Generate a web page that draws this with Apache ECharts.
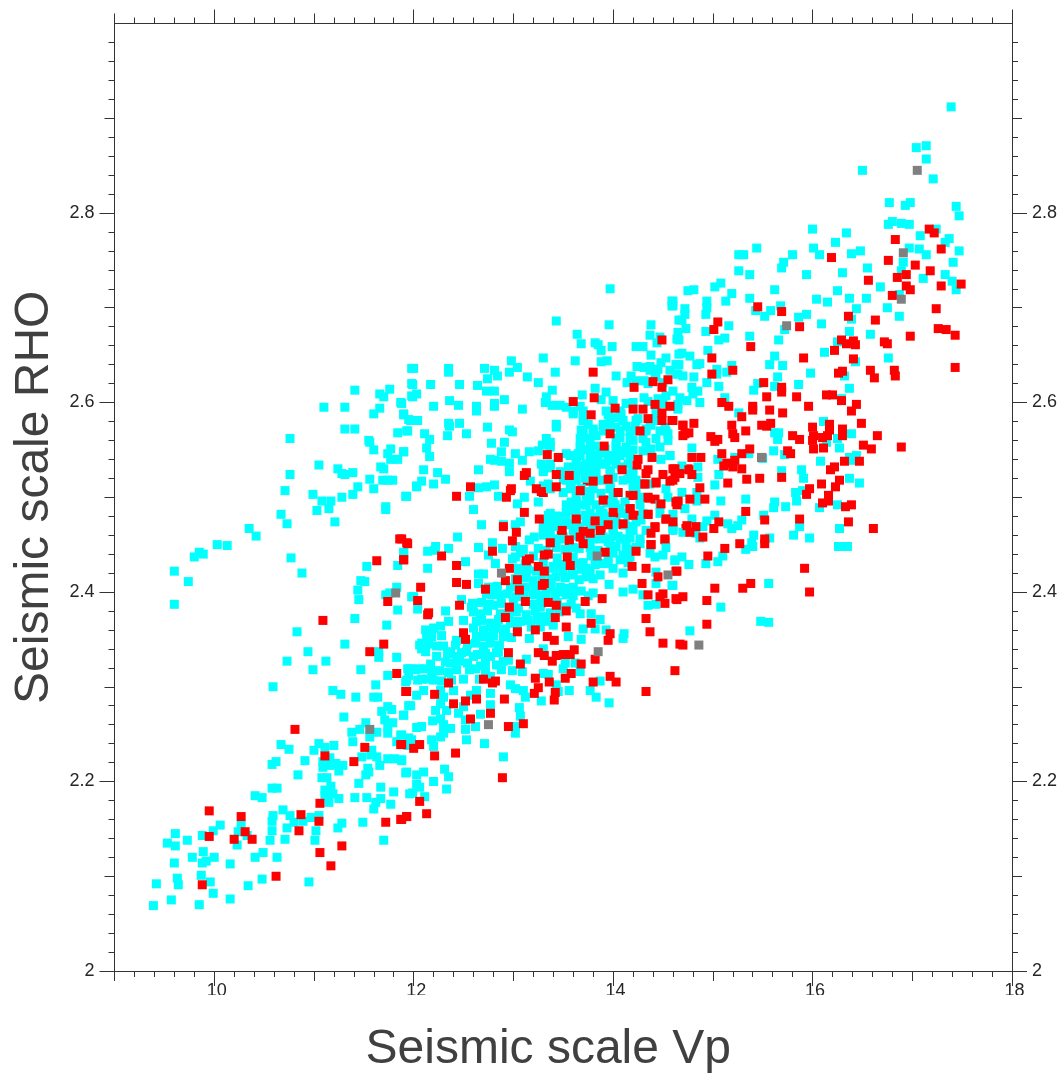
<!DOCTYPE html>
<html>
<head>
<meta charset="utf-8">
<style>html,body{margin:0;padding:0;background:#fff}#c{width:1061px;height:1077px}</style>
<script src="https://cdn.jsdelivr.net/npm/echarts@6/dist/echarts.min.js"></script>
</head>
<body>
<div id="c"></div>
<script>
const xTitle = "Seismic scale Vp";
const yTitle = "Seismic scale RHO";
const xLabelled = [10,12,14,16,18];
const xOddMajor = [9,11,13,15,17];
const yLabelled = [2,2.2,2.4,2.6,2.8];
const yOddMajor = [2.1,2.3,2.5,2.7,2.9];

const cyanLow = [[11.31,2.345],[10.94,2.337],[10.73,2.327],[11.12,2.327],[10.99,2.318],[11.65,2.337],[11.65,2.331],[11.83,2.331],[11.47,2.318],[11.74,2.312],[11.94,2.319],[11.93,2.307],[10.59,2.300],[11.62,2.302],[11.19,2.296],[11.27,2.292],[11.42,2.289],[11.60,2.289],[11.64,2.289],[11.95,2.280],[11.68,2.274],[11.74,2.279],[11.78,2.276],[11.90,2.270],[11.30,2.268],[11.71,2.265],[11.52,2.262],[11.79,2.262],[11.74,2.258],[11.46,2.255],[11.38,2.252],[11.63,2.252],[11.74,2.251],[11.56,2.247],[11.87,2.249],[11.39,2.242],[11.94,2.244],[11.05,2.240],[10.67,2.239],[10.75,2.234],[11.00,2.233],[11.11,2.236],[11.20,2.238],[11.83,2.242],[11.94,2.238],[11.58,2.233],[11.57,2.228],[11.48,2.226],[11.63,2.226],[11.74,2.224],[11.81,2.224],[11.88,2.222],[10.91,2.222],[10.62,2.221],[10.58,2.218],[11.16,2.225],[11.09,2.221],[11.09,2.215],[11.16,2.217],[11.22,2.219],[11.29,2.217],[11.25,2.211],[11.66,2.217],[11.54,2.214],[11.55,2.210],[11.52,2.207],[10.84,2.207],[11.08,2.204],[11.13,2.204],[11.92,2.209],[11.45,2.198],[11.67,2.194],[10.58,2.193],[10.63,2.193],[11.17,2.195],[11.11,2.191],[11.11,2.185],[11.19,2.187],[11.25,2.182],[11.15,2.178],[11.80,2.189],[11.96,2.187],[11.41,2.183],[11.53,2.183],[11.67,2.182],[11.62,2.178],[11.77,2.176],[11.60,2.171],[10.41,2.185],[10.48,2.183],[10.69,2.170],[10.59,2.164],[10.76,2.164],[10.58,2.158],[10.80,2.157],[10.89,2.158],[10.97,2.162],[11.05,2.164],[10.06,2.154],[10.27,2.154],[9.99,2.148],[10.24,2.147],[10.33,2.143],[9.88,2.143],[9.61,2.145],[9.73,2.138],[9.53,2.135],[9.61,2.132],[10.58,2.148],[10.73,2.151],[11.02,2.148],[11.24,2.151],[11.28,2.156],[11.49,2.157],[10.56,2.138],[10.71,2.139],[11.01,2.138],[11.70,2.138],[10.23,2.133],[9.89,2.126],[9.78,2.120],[10.00,2.120],[9.92,2.116],[9.88,2.114],[9.60,2.114],[10.16,2.113],[10.41,2.120],[10.49,2.125],[10.63,2.120],[9.87,2.101],[9.63,2.098],[9.64,2.091],[9.42,2.092],[9.96,2.094],[10.48,2.097],[10.95,2.094],[10.34,2.090],[9.99,2.082],[9.57,2.075],[10.16,2.076],[9.39,2.069],[9.85,2.070]];

const cyanUpperLeft = [[11.41,2.613],[11.76,2.614],[11.66,2.609],[11.70,2.606],[11.98,2.636],[11.98,2.620],[11.98,2.607],[11.87,2.600],[11.10,2.595],[11.31,2.595],[11.66,2.594],[11.60,2.588],[11.90,2.588],[11.95,2.582],[11.31,2.572],[11.41,2.572],[11.93,2.570],[11.84,2.568],[10.76,2.562],[11.55,2.560],[11.56,2.558],[11.60,2.550],[11.77,2.551],[11.90,2.548],[11.74,2.546],[11.77,2.540],[11.84,2.540],[11.05,2.534],[11.67,2.532],[11.70,2.530],[11.24,2.530],[10.76,2.524],[11.28,2.525],[11.31,2.524],[11.39,2.526],[11.56,2.519],[11.69,2.518],[11.74,2.518],[11.79,2.518],[11.44,2.511],[11.60,2.509],[10.71,2.507],[11.39,2.503],[10.99,2.503],[11.92,2.501],[11.28,2.500],[11.08,2.496],[11.17,2.496],[11.15,2.488],[11.72,2.490],[11.72,2.487],[11.03,2.486],[10.67,2.482],[10.73,2.472],[11.21,2.474],[10.35,2.467],[10.42,2.459],[10.03,2.450],[10.13,2.449],[9.85,2.442],[9.89,2.440],[9.80,2.437],[11.90,2.442],[10.77,2.436],[11.53,2.427],[11.84,2.428],[9.60,2.422],[10.88,2.420],[9.74,2.411],[11.47,2.412],[11.51,2.411],[11.44,2.402],[11.83,2.405],[11.76,2.399],[11.72,2.397],[11.45,2.392],[11.98,2.395],[9.60,2.387],[11.84,2.381],[11.41,2.372],[11.73,2.365],[10.83,2.358]];

const cyanUpperMiddle = [[13.97,2.720],[14.59,2.707],[14.59,2.702],[13.43,2.686],[13.96,2.682],[14.38,2.682],[13.64,2.672],[14.37,2.671],[14.47,2.669],[14.66,2.687],[13.68,2.662],[13.82,2.663],[13.85,2.661],[14.44,2.663],[14.64,2.667],[13.99,2.659],[13.88,2.655],[14.23,2.659],[14.30,2.659],[14.38,2.650],[12.98,2.644],[13.30,2.647],[13.62,2.644],[13.88,2.643],[13.94,2.644],[14.53,2.647],[14.48,2.642],[14.66,2.651],[12.00,2.636],[12.35,2.636],[12.35,2.632],[12.71,2.636],[12.81,2.634],[13.04,2.637],[12.96,2.632],[13.42,2.632],[14.24,2.638],[14.31,2.637],[14.37,2.638],[14.45,2.635],[14.63,2.640],[12.84,2.628],[12.74,2.625],[13.14,2.627],[14.03,2.628],[14.18,2.628],[14.37,2.634],[14.43,2.630],[14.57,2.634],[14.65,2.630],[13.25,2.621],[11.99,2.619],[12.17,2.619],[12.46,2.619],[12.64,2.618],[13.39,2.613],[13.82,2.615],[14.14,2.621],[14.23,2.623],[14.31,2.623],[14.42,2.627],[12.03,2.609],[11.99,2.606],[12.73,2.612],[12.81,2.612],[13.93,2.611],[13.69,2.608],[13.33,2.606],[14.31,2.605],[14.53,2.607],[14.60,2.612],[14.45,2.604],[12.91,2.603],[12.36,2.602],[13.88,2.603],[14.00,2.602],[13.32,2.600],[13.39,2.597],[11.88,2.599],[12.45,2.597],[12.81,2.599],[12.81,2.596],[12.20,2.596],[12.63,2.596],[12.63,2.591],[14.13,2.599],[13.47,2.597],[13.53,2.595],[13.67,2.596],[13.09,2.593],[14.43,2.597],[14.65,2.598],[11.90,2.587],[13.60,2.588],[13.95,2.587],[14.03,2.584],[14.08,2.588],[11.97,2.581],[12.04,2.581],[13.70,2.583],[14.25,2.583],[14.37,2.581],[14.43,2.588],[12.35,2.578],[12.36,2.575],[12.46,2.578],[13.43,2.577],[13.43,2.574],[13.75,2.577],[13.90,2.577],[13.95,2.575],[12.74,2.574],[12.96,2.571],[12.99,2.569],[13.68,2.571],[13.80,2.572],[14.03,2.574],[14.13,2.575],[14.20,2.570],[14.33,2.572],[14.47,2.570],[14.55,2.567],[14.55,2.560],[11.94,2.570],[12.11,2.567],[12.34,2.565],[12.53,2.567],[12.16,2.561],[13.70,2.563],[13.83,2.565],[14.07,2.563],[14.20,2.560],[14.33,2.558],[12.91,2.558],[13.37,2.558],[12.78,2.557],[13.29,2.555],[12.13,2.552],[13.67,2.553],[13.82,2.554],[14.03,2.553],[13.25,2.549],[13.16,2.548],[12.88,2.548],[13.02,2.546],[11.90,2.548],[13.65,2.546],[13.87,2.547],[14.00,2.544],[14.13,2.547],[14.30,2.549],[14.57,2.544],[12.16,2.543],[13.53,2.546],[12.77,2.540],[12.81,2.539],[12.88,2.538],[12.96,2.536],[13.09,2.539],[13.63,2.537],[13.77,2.539],[13.87,2.535],[13.95,2.539],[14.48,2.540],[12.10,2.529],[12.65,2.529],[12.96,2.527],[13.30,2.529],[13.37,2.531],[13.67,2.528],[13.80,2.528],[13.97,2.528],[14.17,2.525],[12.24,2.526],[12.32,2.519],[12.08,2.517],[13.17,2.517],[13.50,2.519],[13.60,2.519],[13.80,2.519],[12.20,2.514],[12.03,2.511],[12.81,2.513],[12.73,2.511],[12.65,2.510],[13.30,2.512],[13.35,2.514],[13.57,2.514],[13.97,2.512],[14.20,2.510],[14.37,2.514]];

const cyanCentre = [[11.93,2.501],[12.03,2.512],[12.56,2.501],[12.85,2.501],[13.04,2.493],[13.11,2.500],[13.25,2.495],[12.60,2.487],[12.68,2.471],[12.90,2.471],[13.07,2.474],[13.02,2.471],[13.35,2.481],[13.43,2.480],[13.60,2.490],[13.63,2.495],[13.57,2.486],[13.70,2.492],[13.73,2.502],[14.00,2.493],[13.87,2.486],[14.07,2.488],[13.37,2.472],[13.30,2.469],[13.43,2.469],[13.55,2.472],[14.28,2.476],[14.60,2.469],[12.44,2.458],[13.21,2.458],[13.16,2.455],[13.30,2.460],[13.42,2.456],[14.00,2.465],[14.17,2.465],[13.87,2.456],[13.95,2.453],[14.07,2.456],[14.27,2.451],[14.03,2.448],[14.13,2.448],[12.79,2.452],[12.65,2.447],[13.02,2.448],[12.89,2.446],[13.07,2.441],[12.22,2.448],[12.14,2.443],[12.21,2.444],[12.35,2.446],[12.75,2.439],[11.90,2.441],[12.99,2.435],[14.00,2.441],[14.10,2.439],[14.37,2.441],[14.50,2.439],[14.42,2.437],[14.62,2.434],[14.07,2.434],[12.52,2.432],[12.82,2.430],[12.14,2.425],[13.05,2.425],[13.40,2.427],[13.63,2.430],[13.73,2.425],[13.87,2.430],[14.00,2.425],[14.10,2.420],[14.43,2.421],[12.65,2.419],[12.70,2.419],[12.65,2.409],[13.13,2.418],[13.20,2.412],[13.43,2.416],[13.60,2.418],[13.73,2.416],[13.87,2.418],[14.43,2.409],[14.59,2.407],[13.96,2.408],[14.20,2.403],[14.10,2.400],[12.79,2.405],[12.97,2.405],[13.13,2.405],[13.47,2.405],[13.60,2.405],[14.30,2.397],[13.75,2.396],[12.73,2.398],[12.87,2.397],[13.03,2.395],[13.20,2.397],[13.33,2.398],[13.53,2.397],[12.00,2.395],[12.48,2.392],[14.35,2.386],[14.43,2.387],[12.58,2.384],[12.80,2.386],[13.05,2.383],[13.27,2.384],[13.50,2.384],[13.63,2.383],[12.04,2.382],[12.32,2.380],[12.67,2.377],[12.87,2.377],[13.13,2.376],[13.30,2.374],[13.67,2.377],[13.78,2.377],[13.87,2.371],[12.50,2.370],[12.35,2.369],[12.27,2.364],[12.63,2.369],[12.77,2.367],[12.97,2.367],[13.07,2.369],[13.40,2.365],[12.20,2.362],[12.17,2.356],[12.12,2.360],[12.70,2.360],[12.83,2.362],[13.18,2.363],[13.70,2.361],[13.82,2.361],[13.93,2.360],[14.11,2.356],[14.10,2.351],[13.55,2.353],[13.68,2.350],[13.16,2.351],[12.13,2.351],[12.43,2.349],[12.63,2.353],[12.90,2.353],[12.08,2.346],[12.08,2.340],[12.23,2.343],[12.62,2.346],[12.77,2.346],[12.12,2.337],[12.37,2.337],[12.53,2.337],[12.70,2.339],[12.85,2.337],[13.30,2.340],[12.23,2.332],[12.43,2.332],[12.60,2.332],[12.77,2.332],[12.95,2.328],[13.13,2.329],[12.37,2.325],[12.17,2.324],[12.67,2.322],[12.83,2.323],[13.52,2.325],[11.97,2.319],[12.05,2.319],[12.18,2.316],[12.35,2.315],[12.56,2.318],[12.99,2.317],[13.09,2.316],[13.50,2.319],[13.62,2.325],[13.67,2.316],[13.30,2.314],[13.35,2.313],[11.95,2.312],[12.08,2.308],[12.20,2.307],[12.50,2.308],[12.77,2.311],[13.87,2.306],[11.92,2.305],[12.97,2.302],[13.43,2.302],[12.63,2.296],[12.27,2.296],[12.40,2.296],[12.10,2.296],[13.02,2.298],[13.10,2.296],[13.56,2.296],[13.77,2.296],[13.45,2.295],[12.03,2.291],[12.77,2.293],[12.30,2.289],[12.57,2.291],[13.83,2.289],[13.12,2.289],[13.28,2.285],[13.96,2.283],[11.97,2.280],[12.27,2.282],[12.77,2.281],[12.50,2.279],[12.22,2.275],[12.33,2.275],[13.06,2.278],[12.45,2.272],[12.67,2.271],[11.90,2.270],[13.07,2.269],[12.27,2.266],[12.52,2.265],[12.19,2.264],[12.37,2.256],[12.30,2.260],[12.62,2.258],[12.03,2.257],[12.08,2.258],[13.02,2.258],[13.02,2.251],[12.52,2.255],[12.30,2.251],[11.88,2.249],[12.27,2.247],[12.18,2.244],[12.53,2.244],[11.98,2.244],[11.95,2.246],[12.71,2.240],[12.20,2.237],[12.90,2.226],[11.88,2.223],[11.93,2.210],[12.03,2.207],[12.10,2.210],[12.31,2.213],[12.35,2.205],[12.20,2.200],[12.03,2.197],[12.06,2.194],[12.33,2.192],[11.99,2.188],[12.11,2.184]];

const cyanDense = [[13.60,2.591],[13.70,2.591],[13.93,2.591],[14.07,2.591],[13.70,2.581],[13.97,2.581],[14.10,2.581],[14.23,2.581],[14.43,2.581],[13.70,2.570],[13.80,2.570],[13.90,2.570],[14.07,2.570],[14.17,2.570],[14.33,2.570],[14.53,2.570],[13.33,2.562],[13.67,2.562],[13.77,2.562],[14.03,2.562],[14.17,2.562],[14.30,2.562],[14.43,2.562],[13.37,2.553],[13.67,2.553],[13.77,2.553],[14.03,2.553],[14.13,2.553],[14.47,2.553],[13.57,2.544],[13.67,2.544],[13.77,2.544],[13.85,2.544],[13.95,2.544],[14.07,2.544],[14.17,2.544],[14.57,2.544],[13.28,2.535],[13.37,2.535],[13.63,2.535],[13.73,2.535],[13.83,2.535],[13.93,2.535],[14.03,2.535],[14.15,2.535],[13.30,2.527],[13.47,2.527],[13.63,2.527],[13.73,2.527],[13.83,2.527],[13.97,2.527],[14.20,2.527],[13.53,2.518],[13.63,2.518],[13.83,2.518],[13.90,2.518],[14.10,2.518],[14.23,2.518],[13.37,2.509],[13.58,2.509],[13.68,2.509],[13.80,2.509],[13.97,2.509],[14.23,2.509],[14.53,2.509],[13.63,2.500],[13.77,2.500],[14.00,2.500],[14.27,2.500],[14.55,2.500],[13.53,2.492],[13.63,2.492],[13.73,2.492],[13.83,2.492],[14.02,2.492],[14.27,2.492],[14.47,2.492],[13.37,2.483],[13.53,2.483],[13.63,2.483],[13.77,2.483],[13.90,2.483],[14.10,2.483],[14.30,2.483],[14.47,2.483],[13.33,2.474],[13.43,2.474],[13.53,2.474],[13.73,2.474],[13.92,2.474],[14.03,2.474],[14.23,2.474],[14.60,2.474],[13.37,2.465],[13.60,2.465],[13.77,2.465],[14.00,2.465],[14.20,2.465],[14.33,2.465],[14.60,2.465],[13.37,2.456],[13.47,2.456],[13.80,2.456],[13.97,2.456],[14.10,2.456],[14.27,2.456],[13.43,2.447],[13.60,2.447],[13.77,2.447],[13.97,2.447],[14.23,2.447],[14.53,2.447]];

const cyanLobe = [[13.05,2.423],[13.14,2.424],[13.23,2.422],[13.32,2.423],[13.41,2.425],[13.50,2.422],[13.59,2.423],[13.68,2.424],[13.77,2.422],[13.02,2.414],[13.11,2.415],[13.29,2.413],[13.38,2.414],[13.52,2.415],[13.66,2.413],[13.80,2.414],[12.75,2.405],[12.84,2.406],[13.06,2.404],[13.22,2.405],[13.38,2.406],[13.55,2.404],[12.78,2.397],[12.94,2.398],[13.11,2.396],[13.27,2.397],[13.42,2.398],[13.60,2.396],[12.59,2.388],[12.68,2.389],[12.76,2.387],[12.88,2.388],[13.00,2.389],[13.20,2.387],[13.28,2.388],[13.44,2.389],[13.58,2.387],[12.60,2.379],[12.74,2.380],[12.95,2.378],[13.03,2.379],[13.22,2.380],[13.37,2.378],[13.46,2.379],[12.68,2.370],[12.85,2.371],[13.00,2.369],[13.15,2.370],[13.24,2.371],[13.33,2.369],[12.60,2.362],[12.78,2.363],[12.92,2.361],[13.04,2.362],[13.27,2.363],[12.18,2.353],[12.28,2.354],[12.50,2.352],[12.72,2.353],[12.80,2.354],[12.98,2.352],[12.06,2.344],[12.15,2.345],[12.30,2.343],[12.42,2.344],[12.54,2.345],[12.70,2.343],[12.86,2.344],[12.34,2.335],[12.48,2.336],[12.64,2.334],[12.72,2.335],[12.83,2.336],[12.32,2.326],[12.46,2.327],[12.54,2.325],[12.72,2.326],[12.90,2.327],[12.02,2.318],[12.12,2.319],[12.26,2.317],[12.43,2.318],[12.62,2.319],[12.72,2.317],[12.88,2.318],[12.04,2.307],[12.14,2.308],[12.28,2.306],[12.38,2.307],[12.66,2.308]];

const cyanExtra = [[13.10,2.445],[13.25,2.446],[13.33,2.444],[13.52,2.445],[13.66,2.446],[13.85,2.444],[14.16,2.445],[13.02,2.437],[13.20,2.438],[13.44,2.436],[13.60,2.437],[13.78,2.438],[13.95,2.436],[14.17,2.437],[13.12,2.430],[13.30,2.431],[13.47,2.429],[13.55,2.430],[13.70,2.431],[13.82,2.429],[13.95,2.430],[14.15,2.431],[13.50,2.458],[13.62,2.459],[13.72,2.457],[13.90,2.458],[14.05,2.459],[14.17,2.457],[13.48,2.470],[13.58,2.471],[13.66,2.469],[13.85,2.470],[14.12,2.471],[14.18,2.469],[13.45,2.480],[13.72,2.481],[13.85,2.479],[13.98,2.480],[14.15,2.481],[13.58,2.495],[13.75,2.496],[13.93,2.494],[14.12,2.495],[13.50,2.505],[13.72,2.506],[13.88,2.504],[14.05,2.505],[13.72,2.520],[14.00,2.521],[14.15,2.519],[13.55,2.532],[13.68,2.533],[13.78,2.531],[14.08,2.532],[13.72,2.550],[13.92,2.551],[14.08,2.549],[14.20,2.550],[14.38,2.551],[14.22,2.575],[14.38,2.576],[14.52,2.574],[14.20,2.600],[14.35,2.601],[14.50,2.599],[14.35,2.620],[14.50,2.621],[13.45,2.400],[13.68,2.401],[13.80,2.399]];

const cyanRightLow = [[15.06,2.617],[14.94,2.621],[15.41,2.613],[15.45,2.620],[15.62,2.617],[15.86,2.619],[16.37,2.615],[15.12,2.605],[16.29,2.604],[14.87,2.600],[14.80,2.609],[14.74,2.602],[14.67,2.605],[14.85,2.612],[14.79,2.616],[15.26,2.589],[14.65,2.593],[16.11,2.580],[16.39,2.567],[15.62,2.568],[15.66,2.568],[15.65,2.561],[16.25,2.562],[16.14,2.558],[14.79,2.552],[16.27,2.552],[15.61,2.549],[15.72,2.545],[15.36,2.546],[15.22,2.542],[15.05,2.540],[15.50,2.541],[16.08,2.538],[16.37,2.542],[16.44,2.544],[16.39,2.539],[14.69,2.533],[14.85,2.532],[15.89,2.529],[15.69,2.528],[15.06,2.524],[14.85,2.521],[15.91,2.520],[16.37,2.520],[16.47,2.515],[15.02,2.513],[15.83,2.505],[15.90,2.507],[14.69,2.505],[14.84,2.505],[15.84,2.496],[15.08,2.496],[15.33,2.498],[14.84,2.496],[15.62,2.495],[15.61,2.489],[15.73,2.490],[16.07,2.489],[16.25,2.492],[14.72,2.488],[14.60,2.482],[15.02,2.481],[15.51,2.481],[14.79,2.477],[14.94,2.475],[15.29,2.476],[15.15,2.472],[15.19,2.467],[15.25,2.470],[14.90,2.469],[14.60,2.467],[14.70,2.463],[14.83,2.462],[14.87,2.457],[15.87,2.469],[16.27,2.467],[15.81,2.460],[15.97,2.457],[15.41,2.460],[15.57,2.457],[15.39,2.452],[15.40,2.448],[15.33,2.445],[16.26,2.448],[16.35,2.448],[15.10,2.438],[14.69,2.437],[14.62,2.433],[14.76,2.429],[14.93,2.430],[15.05,2.432],[14.60,2.407],[15.56,2.409],[15.08,2.384],[15.48,2.369],[15.56,2.368],[14.77,2.359]];

const cyanRightHigh = [[17.39,2.912],[17.14,2.871],[17.04,2.869],[17.14,2.857],[16.50,2.845],[17.21,2.836],[16.77,2.811],[16.93,2.808],[16.98,2.811],[17.44,2.807],[17.47,2.797],[16.76,2.788],[16.80,2.791],[16.89,2.789],[16.97,2.788],[17.24,2.783],[16.00,2.783],[16.34,2.779],[17.08,2.776],[17.37,2.773],[17.33,2.769],[16.23,2.769],[15.44,2.763],[16.01,2.763],[16.97,2.763],[17.07,2.762],[17.47,2.760],[15.26,2.756],[15.31,2.756],[15.80,2.756],[16.07,2.756],[16.39,2.757],[16.48,2.760],[17.14,2.756],[15.71,2.748],[15.69,2.742],[16.91,2.748],[17.41,2.748],[15.26,2.739],[15.37,2.735],[16.55,2.742],[15.94,2.735],[16.30,2.737],[16.89,2.739],[17.33,2.735],[17.11,2.731],[15.08,2.726],[15.02,2.722],[17.40,2.728],[17.44,2.719],[16.68,2.722],[14.75,2.718],[14.81,2.719],[15.62,2.719],[16.25,2.718],[15.19,2.715],[16.87,2.714],[15.37,2.710],[16.04,2.709],[16.15,2.706],[16.37,2.710],[16.54,2.710],[15.13,2.707],[14.94,2.707],[14.60,2.707],[14.60,2.702],[14.94,2.700],[14.72,2.699],[16.75,2.700],[15.68,2.702],[15.43,2.697],[15.58,2.697],[16.44,2.699],[14.72,2.693],[14.93,2.693],[15.52,2.691],[16.87,2.691],[15.94,2.693],[15.86,2.690],[16.39,2.688],[14.69,2.687],[16.09,2.683],[15.16,2.681],[14.73,2.678],[15.72,2.677],[14.93,2.675],[16.37,2.675],[14.65,2.674],[16.58,2.672],[15.37,2.670],[15.12,2.668],[15.06,2.666],[14.66,2.666],[15.66,2.666],[16.25,2.664],[14.95,2.655],[14.69,2.652],[14.77,2.649],[16.12,2.653],[16.76,2.647],[15.62,2.649],[15.57,2.640],[15.70,2.639],[14.87,2.641],[14.84,2.640],[14.66,2.640],[16.43,2.643],[15.19,2.639],[15.04,2.635],[15.14,2.632],[15.98,2.631],[15.04,2.630],[14.64,2.630],[14.70,2.628],[14.81,2.627],[16.32,2.628],[15.65,2.627]];

const redLeft = [[11.70,2.345],[11.56,2.337],[11.83,2.314],[11.92,2.295],[10.81,2.255],[11.51,2.236],[11.87,2.239],[11.11,2.227],[11.40,2.221],[11.06,2.177],[9.95,2.169],[10.27,2.163],[10.87,2.165],[11.05,2.158],[11.72,2.157],[11.87,2.160],[11.93,2.163],[10.85,2.148],[10.31,2.147],[9.95,2.142],[10.20,2.139],[10.38,2.139],[11.28,2.132],[11.06,2.125],[11.17,2.111],[10.62,2.100],[9.88,2.091],[11.86,2.456],[11.93,2.452],[11.63,2.433],[11.90,2.434],[11.74,2.390],[11.09,2.370]];

const redTopMiddle = [[14.49,2.666],[13.80,2.632],[14.21,2.616],[14.55,2.624],[14.49,2.616],[14.40,2.622],[13.81,2.605],[13.60,2.601],[14.02,2.594],[14.20,2.593],[14.30,2.593],[14.57,2.596],[14.42,2.598],[14.49,2.589],[13.78,2.587],[14.35,2.583],[14.49,2.581],[14.59,2.581],[14.27,2.570],[13.91,2.554],[13.97,2.567],[13.34,2.545],[13.45,2.542],[14.39,2.542],[14.25,2.540],[14.24,2.534],[14.35,2.529],[14.33,2.525],[14.09,2.529],[13.13,2.526],[13.11,2.523],[13.43,2.524],[13.56,2.523],[13.80,2.517],[13.95,2.519],[14.50,2.524],[14.60,2.530],[14.57,2.517],[14.43,2.515],[14.62,2.521],[14.32,2.514],[12.57,2.511],[12.98,2.509],[13.23,2.509],[13.43,2.511]];

const redCentre = [[12.43,2.501],[12.97,2.507],[12.93,2.500],[13.28,2.506],[13.67,2.507],[14.05,2.505],[14.20,2.502],[14.35,2.500],[14.48,2.493],[14.63,2.495],[13.90,2.497],[13.11,2.484],[14.00,2.484],[14.17,2.488],[14.20,2.481],[14.35,2.482],[14.53,2.477],[13.26,2.477],[13.63,2.477],[13.82,2.475],[14.10,2.472],[13.95,2.471],[14.42,2.469],[14.38,2.462],[12.90,2.469],[13.03,2.463],[13.49,2.465],[13.70,2.464],[13.87,2.465],[13.77,2.462],[13.67,2.458],[13.56,2.455],[13.37,2.452],[13.70,2.451],[14.52,2.456],[14.38,2.450],[12.99,2.454],[11.94,2.451],[11.88,2.456],[12.79,2.443],[13.92,2.442],[14.23,2.443],[12.28,2.438],[13.31,2.439],[13.35,2.440],[13.54,2.437],[13.16,2.435],[13.13,2.433],[13.57,2.428],[11.90,2.434],[12.43,2.428],[14.19,2.427],[14.33,2.425],[13.25,2.427],[13.31,2.422],[12.96,2.425],[14.63,2.422],[14.45,2.416],[13.04,2.413],[12.92,2.412],[13.31,2.409],[13.29,2.407],[14.29,2.409],[12.43,2.410],[12.53,2.408],[12.07,2.405],[12.72,2.403],[13.06,2.402],[14.35,2.397],[14.50,2.398],[14.47,2.395],[13.89,2.393],[14.63,2.393],[12.04,2.391],[14.52,2.388],[13.72,2.390],[13.12,2.390],[13.35,2.389],[13.43,2.386],[12.46,2.386],[12.96,2.384],[13.53,2.380],[12.15,2.378],[12.14,2.376],[14.33,2.372],[12.92,2.373],[13.42,2.373],[13.78,2.367],[13.22,2.360],[13.53,2.363],[14.37,2.358],[12.50,2.357],[12.52,2.350],[13.04,2.358],[13.97,2.356],[13.34,2.353],[13.41,2.349],[13.95,2.349],[14.50,2.346],[14.67,2.345],[12.95,2.336],[13.25,2.336],[13.31,2.333],[13.43,2.333],[13.50,2.334],[13.57,2.334],[13.61,2.339],[13.39,2.327],[13.82,2.329],[13.07,2.324],[13.68,2.324],[14.62,2.317],[13.58,2.314],[13.22,2.309],[13.52,2.309],[13.97,2.311],[14.03,2.305],[12.70,2.308],[12.82,2.306],[12.79,2.304],[13.36,2.305],[13.80,2.305],[12.35,2.304],[13.25,2.299],[14.33,2.295],[11.93,2.295],[13.21,2.293],[12.21,2.292],[13.42,2.294],[13.41,2.286],[12.52,2.285],[12.40,2.282],[12.91,2.287],[12.63,2.287],[12.77,2.272],[12.57,2.266],[13.10,2.261],[12.95,2.258],[12.06,2.239],[12.00,2.235],[11.88,2.239],[12.42,2.230],[12.21,2.227],[12.89,2.204],[12.06,2.179],[12.13,2.166],[11.93,2.163],[11.88,2.160]];

const redUnderCyan = [[14.70,2.576],[14.72,2.567],[14.43,2.516],[14.30,2.514],[14.75,2.530],[13.30,2.505],[13.74,2.517],[14.17,2.502],[14.35,2.499],[14.42,2.498],[14.65,2.495],[13.91,2.497],[14.17,2.488],[14.35,2.482],[14.01,2.482],[14.22,2.481],[13.63,2.476],[13.81,2.475],[14.10,2.471],[14.53,2.477],[14.42,2.468],[13.88,2.465],[13.70,2.463],[13.48,2.464],[13.56,2.454],[13.37,2.452],[13.70,2.451],[14.52,2.455],[14.38,2.450],[14.73,2.467]];

const redRightLow = [[15.54,2.606],[15.84,2.606],[15.69,2.616],[15.69,2.611],[16.14,2.608],[16.20,2.608],[16.29,2.602],[15.09,2.600],[15.16,2.596],[15.40,2.596],[15.40,2.592],[15.57,2.592],[15.96,2.596],[16.44,2.598],[16.39,2.591],[15.70,2.589],[15.29,2.585],[14.60,2.581],[14.81,2.578],[14.70,2.576],[15.19,2.576],[16.49,2.578],[15.49,2.576],[15.58,2.578],[15.54,2.575],[16.00,2.574],[16.17,2.577],[16.17,2.571],[16.30,2.572],[15.33,2.570],[14.76,2.568],[14.70,2.565],[15.20,2.567],[15.22,2.563],[16.01,2.565],[16.30,2.565],[16.65,2.565],[15.80,2.565],[14.98,2.564],[15.05,2.561],[15.02,2.559],[15.87,2.561],[16.00,2.560],[16.10,2.563],[16.15,2.565],[16.51,2.555],[16.59,2.551],[16.89,2.553],[16.01,2.551],[16.11,2.552],[15.37,2.551],[15.75,2.549],[15.09,2.546],[15.29,2.546],[15.78,2.546],[14.79,2.542],[14.88,2.542],[15.49,2.542],[16.32,2.538],[16.47,2.538],[15.14,2.536],[15.22,2.539],[15.11,2.533],[15.20,2.532],[15.29,2.530],[16.22,2.532],[16.18,2.529],[14.62,2.530],[14.76,2.529],[14.67,2.525],[14.79,2.524],[14.60,2.518],[15.34,2.519],[15.47,2.520],[15.69,2.521],[15.15,2.515],[16.27,2.518],[16.09,2.514],[16.23,2.511],[14.87,2.510],[15.97,2.509],[15.94,2.503],[16.16,2.502],[16.16,2.496],[14.92,2.498],[14.77,2.498],[14.65,2.496],[14.64,2.492],[16.10,2.494],[16.39,2.492],[16.33,2.490],[15.33,2.485],[15.87,2.477],[15.52,2.476],[16.36,2.474],[15.06,2.474],[15.01,2.467],[14.74,2.470],[14.83,2.469],[14.60,2.474],[14.77,2.463],[14.90,2.458],[16.61,2.467],[15.52,2.456],[15.52,2.451],[15.12,2.446],[15.27,2.451],[14.95,2.438],[14.64,2.422],[15.92,2.425],[15.38,2.409],[15.30,2.404],[15.02,2.404],[15.97,2.400],[14.70,2.395],[14.64,2.392],[14.94,2.391],[14.94,2.366],[14.70,2.344]];

const redRightHigh = [[17.17,2.783],[17.22,2.779],[16.83,2.772],[17.29,2.762],[16.19,2.753],[16.76,2.750],[17.03,2.745],[17.18,2.739],[16.94,2.735],[16.85,2.732],[16.56,2.729],[16.94,2.723],[17.29,2.723],[17.49,2.725],[16.98,2.719],[16.80,2.713],[15.45,2.701],[15.69,2.696],[17.24,2.699],[16.36,2.691],[16.63,2.687],[15.05,2.685],[15.01,2.677],[15.87,2.680],[17.26,2.678],[17.34,2.677],[17.43,2.671],[16.98,2.670],[16.29,2.666],[16.34,2.662],[16.41,2.665],[16.43,2.661],[16.72,2.664],[16.75,2.662],[15.38,2.659],[16.22,2.655],[15.91,2.647],[16.41,2.646],[14.99,2.647],[15.20,2.634],[14.99,2.630],[16.58,2.634],[16.82,2.634],[16.30,2.633],[16.26,2.631],[17.43,2.637],[16.83,2.628],[16.62,2.626],[15.51,2.621]];

const greyPoints = [[11.56,2.255],[11.82,2.399],[12.88,2.420],[13.84,2.438],[14.55,2.418],[13.85,2.337],[12.75,2.260],[14.86,2.344],[15.49,2.542],[17.05,2.845],[16.91,2.758],[16.89,2.709],[15.74,2.681]];

const cyanPoints = [].concat(cyanLow, cyanUpperLeft, cyanUpperMiddle, cyanCentre, cyanDense, cyanLobe, cyanExtra, cyanRightLow, cyanRightHigh);
const redPoints = [].concat(redLeft, redTopMiddle, redCentre, redRightLow, redRightHigh);

const ink = '#333';
const txt = '#262626';
function xAxis(position, custom, tickLen, labelled, minor, named) {
  return {
    type:'value', position, min:9, max:18, interval:1, splitLine:{show:false},
    axisLine:{show:true,onZero:false,lineStyle:{color:ink,width:1}},
    axisTick:{show:true,customValues:custom,length:tickLen,lineStyle:{color:ink,width:1}},
    minorTick:{show:minor,splitNumber:5,length:6,lineStyle:{color:ink,width:1}},
    axisLabel:labelled?{show:true,customValues:custom,margin:11,fontFamily:'Liberation Sans',fontSize:18,color:txt,padding:[0,0,0,5]}:{show:false},
    name:named?xTitle:'', nameLocation:'middle', nameGap:55,
    nameTextStyle:{fontFamily:'Liberation Sans',fontSize:48,color:'#404040',padding:[0,30,0,0]}
  };
}
function yAxis(position, custom, tickLen, labelled, minor, named) {
  return {
    type:'value', position, min:2, max:3, interval:0.1, splitLine:{show:false},
    axisLine:{show:true,onZero:false,lineStyle:{color:ink,width:1}},
    axisTick:{show:true,customValues:custom,length:tickLen,lineStyle:{color:ink,width:1}},
    minorTick:{show:minor,splitNumber:5,length:6,lineStyle:{color:ink,width:1}},
    axisLabel:labelled?{show:true,customValues:custom,margin:20,fontFamily:'Liberation Sans',fontSize:18,color:txt,formatter:v=>String(+(+v).toFixed(1))}:{show:false},
    name:named?yTitle:'', nameLocation:'middle', nameGap:55,
    nameTextStyle:{fontFamily:'Liberation Sans',fontSize:48,color:'#404040'}
  };
}
function marks(name, data, color, z) {
  return {name, type:'scatter', data, symbol:'rect', symbolSize:9, z, itemStyle:{color,opacity:1}, silent:true, animation:false};
}
const chart = echarts.init(document.getElementById('c'), null, {renderer:'canvas'});
chart.setOption({
  animation:false,
  backgroundColor:'#fff',
  grid:{left:114.5,top:23.5,width:897.5,height:947.5,outerBoundsMode:'none'},
  xAxis:[
    xAxis('bottom',xOddMajor,10,false,true,false),
    xAxis('bottom',xLabelled,15,true,false,true),
    xAxis('top',xOddMajor,10,false,true,false),
    xAxis('top',xLabelled,14,false,false,false)
  ],
  yAxis:[
    yAxis('left',yOddMajor,10,false,true,false),
    yAxis('left',yLabelled,15,true,false,true),
    yAxis('right',yOddMajor,10,false,true,false),
    yAxis('right',yLabelled,15,true,false,false)
  ],
  series:[
    marks('Red under',redUnderCyan,'#ff0000',2),
    marks('Cyan',cyanPoints,'#00ffff',3),
    marks('Red',redPoints,'#ff0000',4),
    marks('Grey',greyPoints,'#808080',5)
  ],
  graphic:[{type:'rect',z:100,silent:true,shape:{x:180,y:995,width:860,height:14},style:{fill:'#fff'}}]
});
</script>
</body>
</html>
